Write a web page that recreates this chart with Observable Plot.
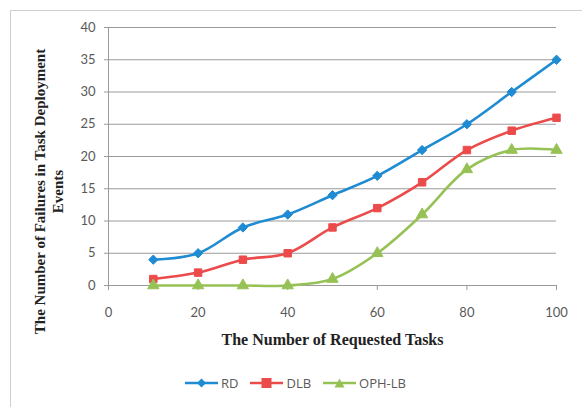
<!DOCTYPE html>
<html>
<head>
<meta charset="utf-8">
<script src="https://cdn.jsdelivr.net/npm/d3@7"></script>
<script src="https://cdn.jsdelivr.net/npm/@observablehq/plot@0.6"></script>
<style>
  html, body { margin: 0; padding: 0; background: #fff; }
  #wrap { position: absolute; left: 10px; top: 10px; width: 580px; height: 405px;
          border-left: 1px solid #cfcfcf; border-top: 1px solid #cfcfcf; box-sizing: border-box; }
  #chart svg { display: block; }
  #legend { display: flex; align-items: center; position: absolute; top: 362px; left: 174px; height: 20px;
            font-family: "Open Sans", Lato, sans-serif; font-size: 13px; color: #595959; }
  .item { display: flex; align-items: center; margin-right: 12px; }
  .item span { margin-left: 3px; }
</style>
</head>
<body>
<div id="wrap">
  <div id="chart"></div>
  <div id="legend"></div>
</div>
<script>
const tasks = [10, 20, 30, 40, 50, 60, 70, 80, 90, 100];
const rd    = [4, 5, 9, 11, 14, 17, 21, 25, 30, 35];
const dlb   = [1, 2, 4, 5, 9, 12, 16, 21, 24, 26];
const ophlb = [0, 0, 0, 0, 1, 5, 11, 18, 21, 21];
const seriesNames = ["RD", "DLB", "OPH-LB"];
const seriesColors = ["#1e8bd2", "#ec4b4b", "#96c255"];
const seriesSymbols = ["diamond2", "square", "triangle"];
const xTicks = [0, 20, 40, 60, 80, 100];
const yTicks = [0, 5, 10, 15, 20, 25, 30, 35, 40];
const xTitle = "The Number of Requested Tasks";
const yTitle = "The Number of Failures in Task Deployment\nEvents";

const values = [rd, dlb, ophlb];
const data = [];
seriesNames.forEach((s, i) => tasks.forEach((t, j) => data.push({series: s, x: t, y: values[i][j]})));

const color = {domain: seriesNames, range: seriesColors};

const chart = Plot.plot({
  width: 571,
  height: 354,
  marginLeft: 97,
  marginRight: 26,
  marginTop: 16,
  marginBottom: 80,
  x: {domain: [0, 100]},
  y: {domain: [0, 40]},
  color,
  symbol: {domain: seriesNames, range: seriesSymbols},
  style: {fontFamily: "Lato, 'Open Sans', sans-serif", background: "transparent"},
  marks: [
    Plot.gridY(yTicks, {stroke: "#9a9a9a", strokeOpacity: 1, strokeWidth: 1}),
    Plot.ruleX([0], {stroke: "#9a9a9a"}),
    Plot.axisY(yTicks, {tickSize: 4, tickPadding: 9, stroke: "#9a9a9a", fill: "#595959", fontSize: 13, label: null}),
    Plot.axisX(xTicks, {tickSize: 5, tickPadding: 17, stroke: "#9a9a9a", fill: "#595959", fontSize: 13, label: null}),
    Plot.line(data, {x: "x", y: "y", z: "series", stroke: "series", strokeWidth: 2.6, curve: "catmull-rom"}),
    Plot.dot(data, {x: "x", y: "y", symbol: "series", fill: "series", stroke: "series", strokeWidth: 1, r: 4.2}),
    Plot.text([xTitle], {frameAnchor: "bottom", dy: 59, fontFamily: "'Liberation Serif', serif", fontWeight: "bold", fontSize: 16, fill: "#222"}),
    Plot.text([yTitle], {frameAnchor: "left", textAnchor: "middle", lineAnchor: "middle", dx: -60, dy: 35, rotate: -90, fontFamily: "'Liberation Serif', serif", fontWeight: "bold", fontSize: 15, fill: "#222", lineHeight: 1.2})
  ]
});
document.getElementById("chart").appendChild(chart);

const legend = document.getElementById("legend");
const shapes = {
  diamond2: '<path d="M16.5,0.5 L21,5 L16.5,9.5 L12,5 Z"/>',
  square: '<rect x="11.5" y="0" width="10" height="10"/>',
  triangle: '<path d="M16.5,0.5 L21.5,9.5 L11.5,9.5 Z"/>'
};
seriesNames.forEach((s, i) => {
  const el = document.createElement("div");
  el.className = "item";
  el.innerHTML = `<svg width="33" height="10"><line x1="0" x2="33" y1="5" y2="5" stroke="${seriesColors[i]}" stroke-width="2.6"/><g fill="${seriesColors[i]}">${shapes[seriesSymbols[i]]}</g></svg><span>${s}</span>`;
  legend.appendChild(el);
});
</script>
</body>
</html>
